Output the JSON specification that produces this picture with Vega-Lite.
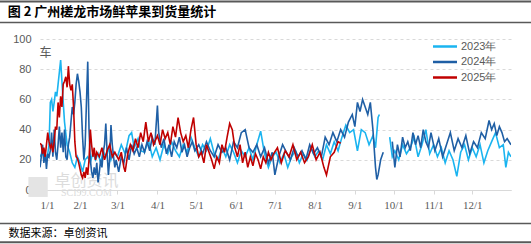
{
  "$schema": "https://vega.github.io/schema/vega-lite/v6.json",
  "autosize": {"type": "none"},
  "width": 471,
  "height": 151,
  "padding": {"left": 40, "top": 39, "right": 20, "bottom": 54},
  "background": "#ffffff",
  "config": {"view": {"stroke": null}, "font": "Noto Sans CJK SC"},
  "resolve": {"axis": {"x": "independent", "y": "independent"}},
  "datasets": {
    "arrivals": [
      {"s":"2023年","d":"2024-01-01","v":22},{"s":"2023年","d":"2024-01-03","v":25},{"s":"2023年","d":"2024-01-05","v":20},{"s":"2023年","d":"2024-01-07","v":24},{"s":"2023年","d":"2024-01-08","v":30},{"s":"2023年","d":"2024-01-09","v":58},{"s":"2023年","d":"2024-01-10","v":60},{"s":"2023年","d":"2024-01-11","v":52},{"s":"2023年","d":"2024-01-12","v":58},{"s":"2023年","d":"2024-01-13","v":65},{"s":"2023年","d":"2024-01-14","v":62},{"s":"2023年","d":"2024-01-15","v":70},{"s":"2023年","d":"2024-01-16","v":78},{"s":"2023年","d":"2024-01-17","v":86},{"s":"2023年","d":"2024-01-18","v":72},{"s":"2023年","d":"2024-01-19","v":58},{"s":"2023年","d":"2024-01-20","v":45},{"s":"2023年","d":"2024-01-22","v":30},{"s":"2023年","d":"2024-01-24","v":25},{"s":"2023年","d":"2024-01-26","v":18},{"s":"2023年","d":"2024-01-28","v":15},{"s":"2023年","d":"2024-01-30","v":22},{"s":"2023年","d":"2024-02-01","v":18},{"s":"2023年","d":"2024-02-03","v":12},{"s":"2023年","d":"2024-02-05","v":20},{"s":"2023年","d":"2024-02-07","v":22},{"s":"2023年","d":"2024-02-09","v":18},{"s":"2023年","d":"2024-02-11","v":25},{"s":"2023年","d":"2024-02-13","v":20},{"s":"2023年","d":"2024-02-15","v":24},{"s":"2023年","d":"2024-02-17","v":18},{"s":"2023年","d":"2024-02-19","v":26},{"s":"2023年","d":"2024-02-21","v":22},{"s":"2023年","d":"2024-02-23","v":28},{"s":"2023年","d":"2024-02-25","v":20},{"s":"2023年","d":"2024-02-27","v":25},{"s":"2023年","d":"2024-03-01","v":22},{"s":"2023年","d":"2024-03-04","v":30},{"s":"2023年","d":"2024-03-07","v":24},{"s":"2023年","d":"2024-03-10","v":36},{"s":"2023年","d":"2024-03-12","v":38},{"s":"2023年","d":"2024-03-14","v":28},{"s":"2023年","d":"2024-03-17","v":34},{"s":"2023年","d":"2024-03-19","v":26},{"s":"2023年","d":"2024-03-22","v":25},{"s":"2023年","d":"2024-03-25","v":33},{"s":"2023年","d":"2024-03-28","v":22},{"s":"2023年","d":"2024-03-31","v":28},{"s":"2023年","d":"2024-04-03","v":20},{"s":"2023年","d":"2024-04-06","v":30},{"s":"2023年","d":"2024-04-09","v":24},{"s":"2023年","d":"2024-04-12","v":32},{"s":"2023年","d":"2024-04-15","v":26},{"s":"2023年","d":"2024-04-18","v":22},{"s":"2023年","d":"2024-04-21","v":30},{"s":"2023年","d":"2024-04-24","v":25},{"s":"2023年","d":"2024-04-27","v":35},{"s":"2023年","d":"2024-04-30","v":28},{"s":"2023年","d":"2024-05-03","v":22},{"s":"2023年","d":"2024-05-06","v":30},{"s":"2023年","d":"2024-05-09","v":26},{"s":"2023年","d":"2024-05-12","v":34},{"s":"2023年","d":"2024-05-15","v":24},{"s":"2023年","d":"2024-05-18","v":20},{"s":"2023年","d":"2024-05-21","v":28},{"s":"2023年","d":"2024-05-24","v":22},{"s":"2023年","d":"2024-05-27","v":30},{"s":"2023年","d":"2024-05-30","v":25},{"s":"2023年","d":"2024-06-02","v":18},{"s":"2023年","d":"2024-06-05","v":26},{"s":"2023年","d":"2024-06-08","v":22},{"s":"2023年","d":"2024-06-11","v":28},{"s":"2023年","d":"2024-06-14","v":20},{"s":"2023年","d":"2024-06-17","v":30},{"s":"2023年","d":"2024-06-20","v":39},{"s":"2023年","d":"2024-06-23","v":24},{"s":"2023年","d":"2024-06-26","v":15},{"s":"2023年","d":"2024-06-29","v":22},{"s":"2023年","d":"2024-07-02","v":25},{"s":"2023年","d":"2024-07-05","v":18},{"s":"2023年","d":"2024-07-08","v":24},{"s":"2023年","d":"2024-07-11","v":15},{"s":"2023年","d":"2024-07-14","v":22},{"s":"2023年","d":"2024-07-17","v":26},{"s":"2023年","d":"2024-07-20","v":18},{"s":"2023年","d":"2024-07-23","v":24},{"s":"2023年","d":"2024-07-26","v":20},{"s":"2023年","d":"2024-07-29","v":28},{"s":"2023年","d":"2024-08-01","v":22},{"s":"2023年","d":"2024-08-04","v":26},{"s":"2023年","d":"2024-08-07","v":20},{"s":"2023年","d":"2024-08-10","v":30},{"s":"2023年","d":"2024-08-13","v":24},{"s":"2023年","d":"2024-08-16","v":32},{"s":"2023年","d":"2024-08-19","v":26},{"s":"2023年","d":"2024-08-22","v":35},{"s":"2023年","d":"2024-08-25","v":43},{"s":"2023年","d":"2024-08-28","v":38},{"s":"2023年","d":"2024-08-31","v":40},{"s":"2023年","d":"2024-09-03","v":26},{"s":"2023年","d":"2024-09-06","v":40},{"s":"2023年","d":"2024-09-09","v":38},{"s":"2023年","d":"2024-09-12","v":30},{"s":"2023年","d":"2024-09-15","v":36},{"s":"2023年","d":"2024-09-17","v":28},{"s":"2023年","d":"2024-09-19","v":48},{"s":"2023年","d":"2024-09-20","v":50},{"s":"2023年","d":"2024-09-24","v":null},{"s":"2023年","d":"2024-09-28","v":35},{"s":"2023年","d":"2024-09-30","v":22},{"s":"2023年","d":"2024-10-02","v":26},{"s":"2023年","d":"2024-10-05","v":20},{"s":"2023年","d":"2024-10-08","v":30},{"s":"2023年","d":"2024-10-11","v":24},{"s":"2023年","d":"2024-10-14","v":28},{"s":"2023年","d":"2024-10-17","v":35},{"s":"2023年","d":"2024-10-20","v":22},{"s":"2023年","d":"2024-10-23","v":30},{"s":"2023年","d":"2024-10-26","v":40},{"s":"2023年","d":"2024-10-29","v":24},{"s":"2023年","d":"2024-11-01","v":30},{"s":"2023年","d":"2024-11-04","v":22},{"s":"2023年","d":"2024-11-07","v":28},{"s":"2023年","d":"2024-11-10","v":18},{"s":"2023年","d":"2024-11-13","v":26},{"s":"2023年","d":"2024-11-16","v":20},{"s":"2023年","d":"2024-11-19","v":9},{"s":"2023年","d":"2024-11-22","v":25},{"s":"2023年","d":"2024-11-25","v":30},{"s":"2023年","d":"2024-11-28","v":20},{"s":"2023年","d":"2024-12-01","v":28},{"s":"2023年","d":"2024-12-04","v":22},{"s":"2023年","d":"2024-12-07","v":30},{"s":"2023年","d":"2024-12-10","v":18},{"s":"2023年","d":"2024-12-13","v":26},{"s":"2023年","d":"2024-12-16","v":32},{"s":"2023年","d":"2024-12-19","v":38},{"s":"2023年","d":"2024-12-22","v":28},{"s":"2023年","d":"2024-12-25","v":30},{"s":"2023年","d":"2024-12-27","v":15},{"s":"2023年","d":"2024-12-29","v":25},{"s":"2023年","d":"2024-12-31","v":22},

      {"s":"2024年","d":"2024-01-01","v":15},{"s":"2024年","d":"2024-01-02","v":22},{"s":"2024年","d":"2024-01-03","v":30},{"s":"2024年","d":"2024-01-04","v":18},{"s":"2024年","d":"2024-01-05","v":25},{"s":"2024年","d":"2024-01-06","v":14},{"s":"2024年","d":"2024-01-07","v":24},{"s":"2024年","d":"2024-01-08","v":22},{"s":"2024年","d":"2024-01-09","v":26},{"s":"2024年","d":"2024-01-10","v":38},{"s":"2024年","d":"2024-01-11","v":22},{"s":"2024年","d":"2024-01-12","v":40},{"s":"2024年","d":"2024-01-13","v":25},{"s":"2024年","d":"2024-01-14","v":20},{"s":"2024年","d":"2024-01-15","v":30},{"s":"2024年","d":"2024-01-16","v":42},{"s":"2024年","d":"2024-01-17","v":28},{"s":"2024年","d":"2024-01-18","v":38},{"s":"2024年","d":"2024-01-19","v":25},{"s":"2024年","d":"2024-01-20","v":40},{"s":"2024年","d":"2024-01-21","v":22},{"s":"2024年","d":"2024-01-22","v":20},{"s":"2024年","d":"2024-01-23","v":30},{"s":"2024年","d":"2024-01-24","v":35},{"s":"2024年","d":"2024-01-25","v":45},{"s":"2024年","d":"2024-01-26","v":55},{"s":"2024年","d":"2024-01-27","v":50},{"s":"2024年","d":"2024-01-28","v":58},{"s":"2024年","d":"2024-01-29","v":70},{"s":"2024年","d":"2024-01-30","v":77},{"s":"2024年","d":"2024-01-31","v":72},{"s":"2024年","d":"2024-02-01","v":65},{"s":"2024年","d":"2024-02-02","v":55},{"s":"2024年","d":"2024-02-03","v":35},{"s":"2024年","d":"2024-02-04","v":20},{"s":"2024年","d":"2024-02-05","v":30},{"s":"2024年","d":"2024-02-06","v":58},{"s":"2024年","d":"2024-02-07","v":85},{"s":"2024年","d":"2024-02-08","v":40},{"s":"2024年","d":"2024-02-09","v":20},{"s":"2024年","d":"2024-02-10","v":12},{"s":"2024年","d":"2024-02-11","v":8},{"s":"2024年","d":"2024-02-12","v":15},{"s":"2024年","d":"2024-02-13","v":10},{"s":"2024年","d":"2024-02-14","v":18},{"s":"2024年","d":"2024-02-15","v":5},{"s":"2024年","d":"2024-02-16","v":12},{"s":"2024年","d":"2024-02-17","v":20},{"s":"2024年","d":"2024-02-18","v":15},{"s":"2024年","d":"2024-02-19","v":25},{"s":"2024年","d":"2024-02-20","v":30},{"s":"2024年","d":"2024-02-21","v":44},{"s":"2024年","d":"2024-02-22","v":25},{"s":"2024年","d":"2024-02-23","v":10},{"s":"2024年","d":"2024-02-24","v":20},{"s":"2024年","d":"2024-02-25","v":43},{"s":"2024年","d":"2024-02-26","v":30},{"s":"2024年","d":"2024-02-27","v":22},{"s":"2024年","d":"2024-02-28","v":15},{"s":"2024年","d":"2024-02-29","v":20},{"s":"2024年","d":"2024-03-02","v":12},{"s":"2024年","d":"2024-03-04","v":22},{"s":"2024年","d":"2024-03-06","v":18},{"s":"2024年","d":"2024-03-08","v":28},{"s":"2024年","d":"2024-03-10","v":20},{"s":"2024年","d":"2024-03-12","v":30},{"s":"2024年","d":"2024-03-14","v":24},{"s":"2024年","d":"2024-03-16","v":28},{"s":"2024年","d":"2024-03-18","v":22},{"s":"2024年","d":"2024-03-20","v":30},{"s":"2024年","d":"2024-03-22","v":25},{"s":"2024年","d":"2024-03-24","v":32},{"s":"2024年","d":"2024-03-26","v":26},{"s":"2024年","d":"2024-03-28","v":35},{"s":"2024年","d":"2024-03-30","v":30},{"s":"2024年","d":"2024-04-01","v":56},{"s":"2024年","d":"2024-04-02","v":38},{"s":"2024年","d":"2024-04-04","v":28},{"s":"2024年","d":"2024-04-06","v":34},{"s":"2024年","d":"2024-04-08","v":24},{"s":"2024年","d":"2024-04-10","v":30},{"s":"2024年","d":"2024-04-12","v":22},{"s":"2024年","d":"2024-04-14","v":32},{"s":"2024年","d":"2024-04-16","v":28},{"s":"2024年","d":"2024-04-18","v":35},{"s":"2024年","d":"2024-04-20","v":25},{"s":"2024年","d":"2024-04-22","v":30},{"s":"2024年","d":"2024-04-24","v":22},{"s":"2024年","d":"2024-04-26","v":28},{"s":"2024年","d":"2024-04-28","v":32},{"s":"2024年","d":"2024-04-30","v":26},{"s":"2024年","d":"2024-05-03","v":30},{"s":"2024年","d":"2024-05-06","v":24},{"s":"2024年","d":"2024-05-09","v":32},{"s":"2024年","d":"2024-05-12","v":26},{"s":"2024年","d":"2024-05-15","v":22},{"s":"2024年","d":"2024-05-18","v":30},{"s":"2024年","d":"2024-05-21","v":25},{"s":"2024年","d":"2024-05-24","v":28},{"s":"2024年","d":"2024-05-27","v":20},{"s":"2024年","d":"2024-05-30","v":32},{"s":"2024年","d":"2024-06-02","v":28},{"s":"2024年","d":"2024-06-05","v":38},{"s":"2024年","d":"2024-06-08","v":40},{"s":"2024年","d":"2024-06-11","v":28},{"s":"2024年","d":"2024-06-14","v":25},{"s":"2024年","d":"2024-06-17","v":30},{"s":"2024年","d":"2024-06-20","v":22},{"s":"2024年","d":"2024-06-23","v":28},{"s":"2024年","d":"2024-06-26","v":18},{"s":"2024年","d":"2024-06-29","v":25},{"s":"2024年","d":"2024-07-01","v":10},{"s":"2024年","d":"2024-07-04","v":22},{"s":"2024年","d":"2024-07-07","v":30},{"s":"2024年","d":"2024-07-10","v":25},{"s":"2024年","d":"2024-07-13","v":20},{"s":"2024年","d":"2024-07-16","v":28},{"s":"2024年","d":"2024-07-19","v":22},{"s":"2024年","d":"2024-07-22","v":26},{"s":"2024年","d":"2024-07-25","v":20},{"s":"2024年","d":"2024-07-28","v":30},{"s":"2024年","d":"2024-07-31","v":24},{"s":"2024年","d":"2024-08-03","v":28},{"s":"2024年","d":"2024-08-06","v":22},{"s":"2024年","d":"2024-08-09","v":35},{"s":"2024年","d":"2024-08-12","v":30},{"s":"2024年","d":"2024-08-15","v":38},{"s":"2024年","d":"2024-08-18","v":32},{"s":"2024年","d":"2024-08-21","v":40},{"s":"2024年","d":"2024-08-24","v":35},{"s":"2024年","d":"2024-08-27","v":45},{"s":"2024年","d":"2024-08-30","v":50},{"s":"2024年","d":"2024-09-01","v":42},{"s":"2024年","d":"2024-09-03","v":58},{"s":"2024年","d":"2024-09-05","v":52},{"s":"2024年","d":"2024-09-07","v":60},{"s":"2024年","d":"2024-09-09","v":55},{"s":"2024年","d":"2024-09-11","v":50},{"s":"2024年","d":"2024-09-13","v":58},{"s":"2024年","d":"2024-09-15","v":40},{"s":"2024年","d":"2024-09-17","v":15},{"s":"2024年","d":"2024-09-18","v":7},{"s":"2024年","d":"2024-09-19","v":10},{"s":"2024年","d":"2024-09-21","v":20},{"s":"2024年","d":"2024-09-23","v":25},{"s":"2024年","d":"2024-09-27","v":null},{"s":"2024年","d":"2024-09-30","v":32},{"s":"2024年","d":"2024-10-02","v":15},{"s":"2024年","d":"2024-10-04","v":30},{"s":"2024年","d":"2024-10-06","v":22},{"s":"2024年","d":"2024-10-08","v":35},{"s":"2024年","d":"2024-10-10","v":28},{"s":"2024年","d":"2024-10-12","v":32},{"s":"2024年","d":"2024-10-14","v":26},{"s":"2024年","d":"2024-10-16","v":38},{"s":"2024年","d":"2024-10-18","v":30},{"s":"2024年","d":"2024-10-20","v":36},{"s":"2024年","d":"2024-10-22","v":28},{"s":"2024年","d":"2024-10-24","v":40},{"s":"2024年","d":"2024-10-26","v":32},{"s":"2024年","d":"2024-10-28","v":28},{"s":"2024年","d":"2024-10-30","v":38},{"s":"2024年","d":"2024-11-02","v":26},{"s":"2024年","d":"2024-11-05","v":34},{"s":"2024年","d":"2024-11-08","v":22},{"s":"2024年","d":"2024-11-11","v":30},{"s":"2024年","d":"2024-11-14","v":38},{"s":"2024年","d":"2024-11-17","v":26},{"s":"2024年","d":"2024-11-20","v":34},{"s":"2024年","d":"2024-11-23","v":28},{"s":"2024年","d":"2024-11-26","v":36},{"s":"2024年","d":"2024-11-29","v":24},{"s":"2024年","d":"2024-12-02","v":32},{"s":"2024年","d":"2024-12-05","v":28},{"s":"2024年","d":"2024-12-08","v":38},{"s":"2024年","d":"2024-12-11","v":34},{"s":"2024年","d":"2024-12-14","v":46},{"s":"2024年","d":"2024-12-16","v":40},{"s":"2024年","d":"2024-12-18","v":44},{"s":"2024年","d":"2024-12-20","v":36},{"s":"2024年","d":"2024-12-22","v":42},{"s":"2024年","d":"2024-12-24","v":38},{"s":"2024年","d":"2024-12-26","v":32},{"s":"2024年","d":"2024-12-28","v":34},{"s":"2024年","d":"2024-12-31","v":30},

      {"s":"2025年","d":"2024-01-01","v":31},{"s":"2025年","d":"2024-01-02","v":30},{"s":"2025年","d":"2024-01-03","v":24},{"s":"2025年","d":"2024-01-04","v":28},{"s":"2025年","d":"2024-01-05","v":22},{"s":"2025年","d":"2024-01-06","v":30},{"s":"2025年","d":"2024-01-07","v":38},{"s":"2025年","d":"2024-01-08","v":32},{"s":"2025年","d":"2024-01-09","v":28},{"s":"2025年","d":"2024-01-10","v":30},{"s":"2025年","d":"2024-01-11","v":25},{"s":"2025年","d":"2024-01-12","v":32},{"s":"2025年","d":"2024-01-13","v":42},{"s":"2025年","d":"2024-01-14","v":40},{"s":"2025年","d":"2024-01-15","v":58},{"s":"2025年","d":"2024-01-16","v":48},{"s":"2025年","d":"2024-01-17","v":62},{"s":"2025年","d":"2024-01-18","v":55},{"s":"2025年","d":"2024-01-19","v":70},{"s":"2025年","d":"2024-01-20","v":72},{"s":"2025年","d":"2024-01-21","v":75},{"s":"2025年","d":"2024-01-22","v":68},{"s":"2025年","d":"2024-01-23","v":82},{"s":"2025年","d":"2024-01-24","v":70},{"s":"2025年","d":"2024-01-25","v":66},{"s":"2025年","d":"2024-01-26","v":70},{"s":"2025年","d":"2024-01-27","v":55},{"s":"2025年","d":"2024-01-28","v":32},{"s":"2025年","d":"2024-01-29","v":22},{"s":"2025年","d":"2024-01-30","v":21},{"s":"2025年","d":"2024-01-31","v":18},{"s":"2025年","d":"2024-02-01","v":14},{"s":"2025年","d":"2024-02-02","v":10},{"s":"2025年","d":"2024-02-03","v":8},{"s":"2025年","d":"2024-02-04","v":12},{"s":"2025年","d":"2024-02-05","v":8},{"s":"2025年","d":"2024-02-06","v":15},{"s":"2025年","d":"2024-02-07","v":10},{"s":"2025年","d":"2024-02-08","v":20},{"s":"2025年","d":"2024-02-09","v":40},{"s":"2025年","d":"2024-02-10","v":30},{"s":"2025年","d":"2024-02-11","v":22},{"s":"2025年","d":"2024-02-12","v":28},{"s":"2025年","d":"2024-02-13","v":20},{"s":"2025年","d":"2024-02-14","v":25},{"s":"2025年","d":"2024-02-16","v":22},{"s":"2025年","d":"2024-02-18","v":28},{"s":"2025年","d":"2024-02-20","v":20},{"s":"2025年","d":"2024-02-22","v":26},{"s":"2025年","d":"2024-02-24","v":30},{"s":"2025年","d":"2024-02-26","v":22},{"s":"2025年","d":"2024-02-28","v":25},{"s":"2025年","d":"2024-03-02","v":20},{"s":"2025年","d":"2024-03-04","v":25},{"s":"2025年","d":"2024-03-06","v":15},{"s":"2025年","d":"2024-03-07","v":12},{"s":"2025年","d":"2024-03-09","v":24},{"s":"2025年","d":"2024-03-11","v":30},{"s":"2025年","d":"2024-03-13","v":26},{"s":"2025年","d":"2024-03-15","v":34},{"s":"2025年","d":"2024-03-17","v":28},{"s":"2025年","d":"2024-03-19","v":38},{"s":"2025年","d":"2024-03-21","v":32},{"s":"2025年","d":"2024-03-23","v":45},{"s":"2025年","d":"2024-03-25","v":32},{"s":"2025年","d":"2024-03-27","v":38},{"s":"2025年","d":"2024-03-29","v":30},{"s":"2025年","d":"2024-04-01","v":36},{"s":"2025年","d":"2024-04-03","v":30},{"s":"2025年","d":"2024-04-05","v":40},{"s":"2025年","d":"2024-04-07","v":34},{"s":"2025年","d":"2024-04-09","v":38},{"s":"2025年","d":"2024-04-11","v":30},{"s":"2025年","d":"2024-04-13","v":42},{"s":"2025年","d":"2024-04-15","v":35},{"s":"2025年","d":"2024-04-17","v":48},{"s":"2025年","d":"2024-04-19","v":38},{"s":"2025年","d":"2024-04-21","v":32},{"s":"2025年","d":"2024-04-23","v":36},{"s":"2025年","d":"2024-04-25","v":28},{"s":"2025年","d":"2024-04-27","v":40},{"s":"2025年","d":"2024-04-29","v":48},{"s":"2025年","d":"2024-05-01","v":30},{"s":"2025年","d":"2024-05-03","v":22},{"s":"2025年","d":"2024-05-05","v":25},{"s":"2025年","d":"2024-05-07","v":18},{"s":"2025年","d":"2024-05-09","v":30},{"s":"2025年","d":"2024-05-11","v":25},{"s":"2025年","d":"2024-05-13","v":20},{"s":"2025年","d":"2024-05-15","v":14},{"s":"2025年","d":"2024-05-17","v":22},{"s":"2025年","d":"2024-05-19","v":18},{"s":"2025年","d":"2024-05-21","v":30},{"s":"2025年","d":"2024-05-23","v":25},{"s":"2025年","d":"2024-05-25","v":35},{"s":"2025年","d":"2024-05-27","v":44},{"s":"2025年","d":"2024-05-29","v":40},{"s":"2025年","d":"2024-05-31","v":28},{"s":"2025年","d":"2024-06-02","v":22},{"s":"2025年","d":"2024-06-04","v":30},{"s":"2025年","d":"2024-06-06","v":18},{"s":"2025年","d":"2024-06-08","v":25},{"s":"2025年","d":"2024-06-10","v":15},{"s":"2025年","d":"2024-06-12","v":22},{"s":"2025年","d":"2024-06-14","v":16},{"s":"2025年","d":"2024-06-16","v":24},{"s":"2025年","d":"2024-06-18","v":20},{"s":"2025年","d":"2024-06-20","v":14},{"s":"2025年","d":"2024-06-22","v":22},{"s":"2025年","d":"2024-06-24","v":18},{"s":"2025年","d":"2024-06-26","v":25},{"s":"2025年","d":"2024-06-28","v":20},{"s":"2025年","d":"2024-06-30","v":24},{"s":"2025年","d":"2024-07-03","v":28},{"s":"2025年","d":"2024-07-06","v":18},{"s":"2025年","d":"2024-07-09","v":26},{"s":"2025年","d":"2024-07-12","v":22},{"s":"2025年","d":"2024-07-15","v":30},{"s":"2025年","d":"2024-07-18","v":20},{"s":"2025年","d":"2024-07-21","v":25},{"s":"2025年","d":"2024-07-24","v":18},{"s":"2025年","d":"2024-07-27","v":22},{"s":"2025年","d":"2024-07-30","v":30},{"s":"2025年","d":"2024-08-02","v":20},{"s":"2025年","d":"2024-08-05","v":25},{"s":"2025年","d":"2024-08-08","v":15},{"s":"2025年","d":"2024-08-10","v":10},{"s":"2025年","d":"2024-08-13","v":22},{"s":"2025年","d":"2024-08-16","v":25},{"s":"2025年","d":"2024-08-19","v":32},{"s":"2025年","d":"2024-08-21","v":31}
    ],
    "one": [{}]
  },
  "layer": [
    {
      "data": {"name": "one"},
      "mark": {"type": "rect", "color": "#e4e4e4"},
      "encoding": {
        "x": {"datum": {"year": 2023, "month": 12, "date": 23, "utc": true}, "type": "temporal", "axis": null, "scale": {"type": "utc", "domain": ["2024-01-01", "2024-12-31"], "nice": false}},
        "x2": {"datum": {"year": 2024, "month": 1, "date": 7, "utc": true}},
        "y": {"datum": 8.6, "type": "quantitative", "axis": null, "scale": {"domain": [0, 100], "nice": false}},
        "y2": {"datum": -4.6}
      }
    },
    {
      "data": {"name": "one"},
      "mark": {"type": "text", "fontSize": 16, "color": "#dcdcdc", "font": "Noto Sans CJK SC", "align": "center", "baseline": "middle"},
      "encoding": {
        "x": {"datum": {"year": 2024, "month": 2, "date": 6, "utc": true}, "type": "temporal", "axis": null, "scale": {"type": "utc", "domain": ["2024-01-01", "2024-12-31"], "nice": false}},
        "y": {"datum": 6, "type": "quantitative", "axis": null, "scale": {"domain": [0, 100], "nice": false}},
        "text": {"value": "卓创资讯"}
      }
    },
    {
      "data": {"name": "one"},
      "mark": {"type": "text", "fontSize": 10, "color": "#dcdcdc", "font": "Liberation Serif", "align": "center", "baseline": "middle"},
      "encoding": {
        "x": {"datum": {"year": 2024, "month": 2, "date": 6, "utc": true}, "type": "temporal", "axis": null, "scale": {"type": "utc", "domain": ["2024-01-01", "2024-12-31"], "nice": false}},
        "y": {"datum": -1.8, "type": "quantitative", "axis": null, "scale": {"domain": [0, 100], "nice": false}},
        "text": {"value": "SCI99.COM"}
      }
    },
    {
      "data": {"name": "arrivals"},
      "mark": {"type": "line", "strokeWidth": 1.6, "clip": true},
      "encoding": {
        "x": {
          "field": "d", "type": "temporal",
          "scale": {"type": "utc", "domain": ["2024-01-01", "2024-12-31"], "nice": false},
          "axis": {
            "values": [
              {"year": 2024, "month": 1, "date": 1, "utc": true}, {"year": 2024, "month": 2, "date": 1, "utc": true},
              {"year": 2024, "month": 3, "date": 1, "utc": true}, {"year": 2024, "month": 4, "date": 1, "utc": true},
              {"year": 2024, "month": 5, "date": 1, "utc": true}, {"year": 2024, "month": 6, "date": 1, "utc": true},
              {"year": 2024, "month": 7, "date": 1, "utc": true}, {"year": 2024, "month": 8, "date": 1, "utc": true},
              {"year": 2024, "month": 9, "date": 1, "utc": true}, {"year": 2024, "month": 10, "date": 1, "utc": true},
              {"year": 2024, "month": 11, "date": 1, "utc": true}, {"year": 2024, "month": 12, "date": 1, "utc": true}
            ],
            "labelExpr": "utcFormat(datum.value, '%-m/%-d')", "labelOverlap": false,
            "grid": false, "domainColor": "#d9d9d9", "tickColor": "#d9d9d9", "tickSize": 4,
            "labelColor": "#595959", "labelFont": "Liberation Serif", "labelFontSize": 11, "labelPadding": 5,
            "title": "数据来源：卓创资讯", "titleAnchor": "start", "titleAlign": "left", "titleX": -32, "titleY": 43,
            "titleBaseline": "middle", "titleFontSize": 11, "titleFontWeight": "normal", "titleColor": "#000000", "titleFont": "Noto Sans CJK SC"
          }
        },
        "y": {
          "field": "v", "type": "quantitative",
          "scale": {"domain": [0, 100], "nice": false},
          "axis": {
            "values": [0, 20, 40, 60, 80, 100], "domain": false, "ticks": false, "labelOverlap": false,
            "grid": true, "gridColor": "#d9d9d9", "gridDash": [3, 3], "gridWidth": 1,
            "labelColor": "#595959", "labelFontSize": 11, "labelFont": "Liberation Sans", "labelPadding": 9,
            "title": "车", "titleAngle": 0, "titleX": 5, "titleY": 13, "titleAlign": "center", "titleBaseline": "middle",
            "titleFontSize": 12, "titleFontWeight": "normal", "titleColor": "#595959", "titleFont": "Noto Sans CJK SC"
          }
        },
        "color": {
          "field": "s", "type": "nominal",
          "scale": {"domain": ["2023年", "2024年", "2025年"], "range": ["#1AB4F0", "#1F5FA5", "#C00000"]},
          "legend": {
            "title": null, "orient": "none", "legendX": 396, "legendY": -1.5,
            "symbolType": "M-1.6,0L1.6,0", "symbolSize": 225, "symbolStrokeWidth": 2.5,
            "labelFontSize": 11, "labelColor": "#595959", "labelFont": "Liberation Sans", "labelOffset": 7, "rowPadding": 1.5
          }
        }
      }
    },
    {
      "data": {"name": "one"},
      "mark": {"type": "text", "fontSize": 13, "fontWeight": "bold", "color": "#000000", "font": "Noto Sans CJK SC", "align": "left", "baseline": "middle"},
      "encoding": {
        "x": {"datum": {"year": 2023, "month": 12, "date": 7, "utc": true}, "type": "temporal", "axis": null, "scale": {"type": "utc", "domain": ["2024-01-01", "2024-12-31"], "nice": false}},
        "y": {"datum": 117.9, "type": "quantitative", "axis": null, "scale": {"domain": [0, 100], "nice": false}},
        "text": {"value": "图 2 广州槎龙市场鲜苹果到货量统计"}
      }
    },
    {
      "data": {"name": "one"},
      "mark": {"type": "rule", "color": "#595959", "strokeWidth": 2},
      "encoding": {
        "x": {"datum": {"year": 2023, "month": 11, "date": 1, "utc": true}, "type": "temporal", "axis": null, "scale": {"type": "utc", "domain": ["2024-01-01", "2024-12-31"], "nice": false}},
        "x2": {"datum": {"year": 2025, "month": 2, "date": 1, "utc": true}},
        "y": {"datum": 124.8, "type": "quantitative", "axis": null, "scale": {"domain": [0, 100], "nice": false}}
      }
    },
    {
      "data": {"name": "one"},
      "mark": {"type": "rule", "color": "#595959", "strokeWidth": 1.5},
      "encoding": {
        "x": {"datum": {"year": 2023, "month": 11, "date": 1, "utc": true}, "type": "temporal", "axis": null, "scale": {"type": "utc", "domain": ["2024-01-01", "2024-12-31"], "nice": false}},
        "x2": {"datum": {"year": 2025, "month": 2, "date": 1, "utc": true}},
        "y": {"datum": 110.9, "type": "quantitative", "axis": null, "scale": {"domain": [0, 100], "nice": false}}
      }
    },
    {
      "data": {"name": "one"},
      "mark": {"type": "rule", "color": "#595959", "strokeWidth": 1.5},
      "encoding": {
        "x": {"datum": {"year": 2023, "month": 11, "date": 1, "utc": true}, "type": "temporal", "axis": null, "scale": {"type": "utc", "domain": ["2024-01-01", "2024-12-31"], "nice": false}},
        "x2": {"datum": {"year": 2025, "month": 2, "date": 1, "utc": true}},
        "y": {"datum": -22.2, "type": "quantitative", "axis": null, "scale": {"domain": [0, 100], "nice": false}}
      }
    },
    {
      "data": {"name": "one"},
      "mark": {"type": "rule", "color": "#595959", "strokeWidth": 2},
      "encoding": {
        "x": {"datum": {"year": 2023, "month": 11, "date": 1, "utc": true}, "type": "temporal", "axis": null, "scale": {"type": "utc", "domain": ["2024-01-01", "2024-12-31"], "nice": false}},
        "x2": {"datum": {"year": 2025, "month": 2, "date": 1, "utc": true}},
        "y": {"datum": -34.6, "type": "quantitative", "axis": null, "scale": {"domain": [0, 100], "nice": false}}
      }
    }
  ]
}
